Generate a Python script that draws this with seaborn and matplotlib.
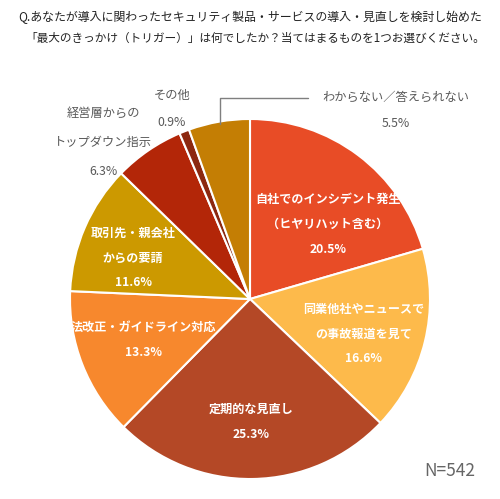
import matplotlib
matplotlib.use("Agg")
import matplotlib.pyplot as plt
import seaborn as sns

# ---- data ----
categories = [
    "自社でのインシデント発生\n（ヒヤリハット含む）",
    "同業他社やニュースで\nの事故報道を見て",
    "定期的な見直し",
    "法改正・ガイドライン対応",
    "取引先・親会社\nからの要請",
    "経営層からの\nトップダウン指示",
    "その他",
    "わからない／答えられない",
]
values = [20.5, 16.6, 25.3, 13.3, 11.6, 6.3, 0.9, 5.5]
colors = ["#E84C26", "#FDBA4B", "#B44826", "#F7882D",
          "#CC9900", "#B32608", "#8C2810", "#C47E04"]
title_lines = [
    "Q.あなたが導入に関わったセキュリティ製品・サービスの導入・見直しを検討し始めた",
    "「最大のきっかけ（トリガー）」は何でしたか？当てはまるものを1つお選びください。",
]
n_label = "N=542"

sns.set_theme(style="white")
plt.rcParams['font.family'] = ['Noto Sans CJK JP', 'DejaVu Sans']

W, H = 500, 499
fig = plt.figure(figsize=(W / 100, H / 100), dpi=100)
ax = fig.add_axes([0, 0, 1, 1])

def Y(py):
    return H - py

cx, cy, r = 250, 299, 180
ax.pie(values, colors=colors, startangle=90, counterclock=False,
       center=(cx, Y(cy)), radius=r,
       wedgeprops=dict(edgecolor="white", linewidth=1.5))
ax.set_xlim(0, W)
ax.set_ylim(0, H)
ax.set_aspect("equal")
ax.axis("off")

# title (fit the reference's line widths)
t1 = ax.text(18, Y(17), title_lines[0], ha="left", va="center", fontsize=8.5, color="#222222")
t2 = ax.text(25, Y(38), title_lines[1], ha="left", va="center", fontsize=8.5, color="#222222")
fig.canvas.draw()
rend = fig.canvas.get_renderer()
for t, right in ((t1, 482), (t2, 484)):
    bb = t.get_window_extent(rend)
    target = right - bb.x0
    t.set_fontsize(t.get_fontsize() * target / bb.width)

# inside labels (white, bold): (x, y-of-first-line)
inside_pos = {0: (328, 199), 1: (364, 309), 2: (251, 409), 3: (143, 327), 4: (133, 233)}
for i, (x, y0) in inside_pos.items():
    lines = categories[i].split("\n") + [f"{values[i]:.1f}%"]
    for k, ln in enumerate(lines):
        ax.text(x, Y(y0 + k * 25), ln, ha="center", va="center",
                fontsize=8.7, color="white", fontweight="bold")

# outside labels (gray)
gray = "#595959"
outside_pos = {5: (103, 113, 29), 6: (172, 95, 27), 7: (396, 97, 26)}
for i, (x, y0, dy) in outside_pos.items():
    lines = categories[i].split("\n") + [f"{values[i]:.1f}%"]
    for k, ln in enumerate(lines):
        ax.text(x, Y(y0 + k * dy), ln, ha="center", va="center",
                fontsize=8.8, color=gray)

# leader line for わからない
ax.plot([220, 220, 308], [Y(124), Y(98), Y(98)], color="#7f7f7f", linewidth=1.0)

ax.text(450, Y(471), n_label, ha="center", va="center", fontsize=12.5, color="#666666")

fig.savefig("out.png", dpi=100)
